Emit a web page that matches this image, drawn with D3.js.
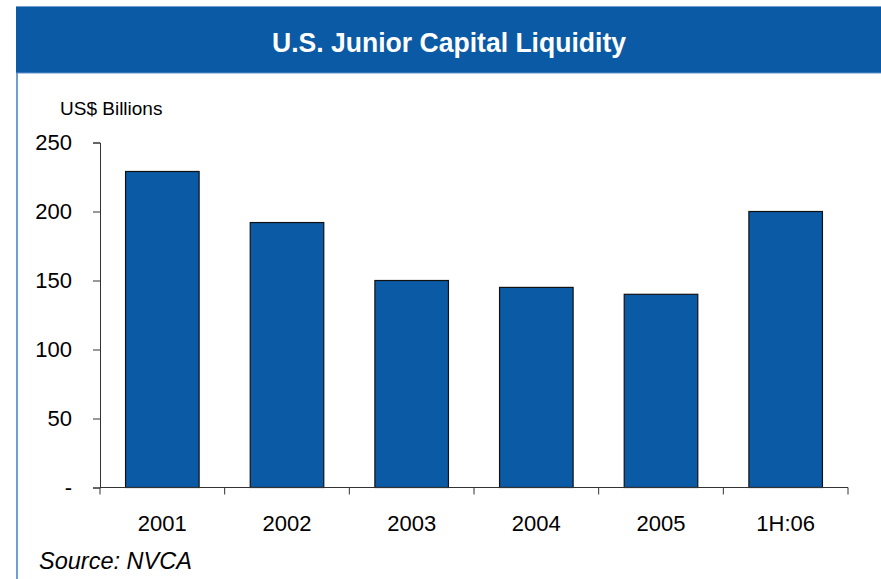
<!DOCTYPE html>
<html>
<head>
<meta charset="utf-8">
<script src="https://cdn.jsdelivr.net/npm/d3@7"></script>
<style>
  html, body { margin: 0; padding: 0; background: #fff; }
  svg { display: block; }
  text { font-family: "Liberation Sans", Arial, sans-serif; }
</style>
</head>
<body>
<svg id="chart" width="881" height="579"></svg>
<script>
// Junior capital liquidity by period, US$ billions
const categories = ["2001", "2002", "2003", "2004", "2005", "1H:06"];
const liquidity = [229, 192, 150, 145, 140, 200];
const yTicks = [0, 50, 100, 150, 200, 250];
const yTickLabels = ["-", "50", "100", "150", "200", "250"];

const title = "U.S. Junior Capital Liquidity";
const unitLabel = "US$ Billions";
const sourceNote = "Source: NVCA";

const blue = "#0b5aa5";
const svg = d3.select("#chart");

// Panel frame and title band
svg.append("rect")
  .attr("x", 17).attr("y", 7).attr("width", 880).attr("height", 600)
  .attr("fill", "#fff").attr("stroke", "#6f9fd2").attr("stroke-width", 2);
svg.append("rect")
  .attr("x", 16).attr("y", 7).attr("width", 870).attr("height", 66)
  .attr("fill", blue);
svg.append("line")
  .attr("x1", 16).attr("x2", 881).attr("y1", 73).attr("y2", 73)
  .attr("stroke", "#5f93cc").attr("stroke-width", 1);
svg.append("text")
  .attr("x", 449).attr("y", 52)
  .attr("text-anchor", "middle")
  .attr("fill", "#fff")
  .attr("font-weight", "bold")
  .attr("font-size", 28)
  .attr("textLength", 354)
  .attr("lengthAdjust", "spacingAndGlyphs")
  .text(title);

// Plot area
const plot = { left: 100, right: 848, top: 142.5, bottom: 487.5 };

const x = d3.scaleBand()
  .domain(categories)
  .range([plot.left, plot.right])
  .paddingInner(0.41)
  .paddingOuter(0.205);

const y = d3.scaleLinear()
  .domain([0, 250])
  .range([plot.bottom, plot.top]);

// Bars
svg.append("g")
  .selectAll("rect")
  .data(categories)
  .join("rect")
  .attr("x", d => x(d))
  .attr("width", x.bandwidth())
  .attr("y", (d, i) => y(liquidity[i]))
  .attr("height", (d, i) => y(0) - y(liquidity[i]))
  .attr("fill", blue)
  .attr("stroke", "#111")
  .attr("stroke-width", 1.2);

// Y axis
const yAxis = d3.axisLeft(y)
  .tickValues(yTicks)
  .tickFormat((d, i) => yTickLabels[i])
  .tickSize(7)
  .tickPadding(21);
const gy = svg.append("g")
  .attr("transform", `translate(${plot.left},0)`)
  .call(yAxis);
gy.select(".domain").attr("stroke", "#333");
gy.selectAll(".tick line").attr("stroke", "#333");
gy.selectAll(".tick text")
  .attr("font-size", 22)
  .attr("fill", "#000")
  .attr("font-family", "Liberation Sans, Arial, sans-serif");

// X axis: ticks sit on category boundaries
const boundaries = d3.range(categories.length + 1)
  .map(i => plot.left + i * (plot.right - plot.left) / categories.length);
const gx = svg.append("g");
gx.append("line")
  .attr("x1", plot.left).attr("x2", plot.right)
  .attr("y1", plot.bottom).attr("y2", plot.bottom)
  .attr("stroke", "#333");
gx.selectAll("line.tick")
  .data(boundaries)
  .join("line")
  .attr("class", "tick")
  .attr("x1", d => d).attr("x2", d => d)
  .attr("y1", plot.bottom).attr("y2", plot.bottom + 7)
  .attr("stroke", "#333");
gx.selectAll("text")
  .data(categories)
  .join("text")
  .attr("x", d => x(d) + x.bandwidth() / 2)
  .attr("y", 531)
  .attr("text-anchor", "middle")
  .attr("font-size", 22)
  .attr("fill", "#000")
  .text(d => d);

// Unit label and source note
svg.append("text")
  .attr("x", 60).attr("y", 114.5)
  .attr("font-size", 19)
  .attr("fill", "#000")
  .text(unitLabel);
svg.append("text")
  .attr("x", 39).attr("y", 569)
  .attr("font-size", 23.5)
  .attr("font-style", "italic")
  .attr("fill", "#000")
  .text(sourceNote);
</script>
</body>
</html>
